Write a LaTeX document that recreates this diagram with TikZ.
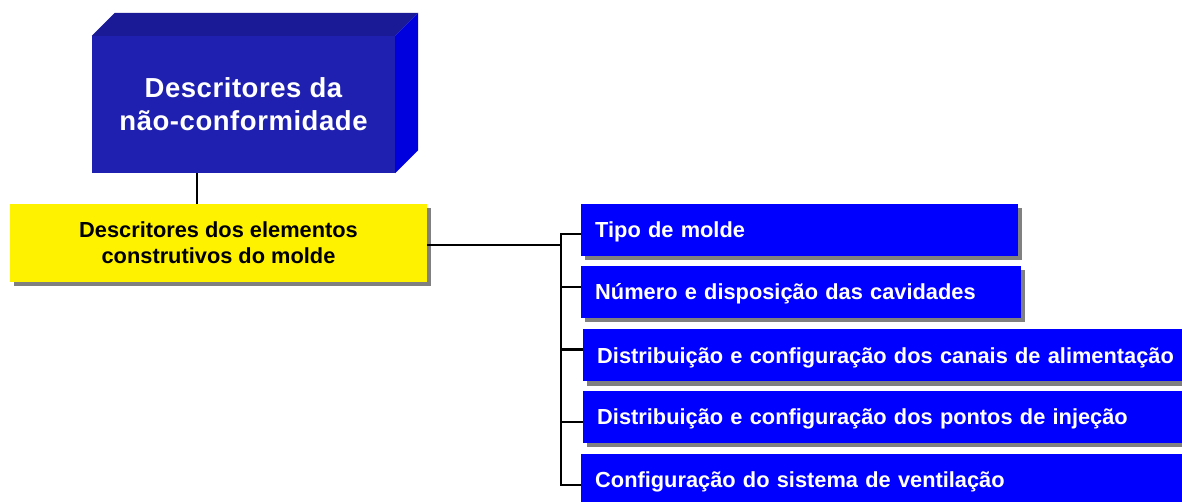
\documentclass[tikz,border=0pt]{standalone}
\usepackage{fontspec}
\setmainfont{Liberation Sans}
\begin{document}
\begin{tikzpicture}[x=1pt,y=1pt,
  blue3d/.style={fill=topfront, draw=none, minimum width=303pt, minimum height=137pt, inner sep=0pt,
    text=white, align=center, font=\fontsize{27.5}{33}\selectfont\bfseries\addfontfeature{LetterSpace=2}},
  yelbox/.style={fill=yellow, draw=none, minimum width=417pt, minimum height=78pt, inner sep=0pt,
    align=center, font=\fontsize{21.8}{26}\selectfont\bfseries},
  itembox/.style={fill=blue, draw=none, minimum height=52pt, inner sep=0pt, text=white,
    anchor=west, align=left, text depth=0pt, font=\fontsize{21.8}{26}\selectfont\bfseries},
  link/.style={draw=black, line width=2.8pt}
]
\definecolor{topfront}{RGB}{32,32,176}
\definecolor{toptop}{RGB}{26,26,150}
\definecolor{topside}{RGB}{0,0,222}
\definecolor{shadowgray}{RGB}{128,128,128}
\clip (0,0) rectangle (1182,502);
\fill[white] (0,0) rectangle (1182,502);

% top 3D box
\node[blue3d] (top) at (243.5,397.5) {Descritores da\\não-conformidade};
\fill[toptop] (top.north west) -- ++(23,23) -- ([shift={(23,23)}]top.north east) -- (top.north east) -- cycle;
\fill[topside] (top.north east) -- ++(23,23) -- ([shift={(23,23)}]top.south east) -- (top.south east) -- cycle;

% yellow box
\fill[shadowgray] (14,216) rectangle (431,294);
\node[yelbox] (yel) at (218.5,259) {Descritores dos elementos\\construtivos do molde};

% item boxes with shadows
\fill[shadowgray] (585,242) rectangle (1022,294);
\node[itembox, minimum width=437pt, text width=409pt] (b1) at (581,272) {Tipo de molde};
\fill[shadowgray] (585,180) rectangle (1025,232);
\node[itembox, minimum width=440pt, text width=412pt] (b2) at (581,210) {Número e disposição das cavidades};
\fill[shadowgray] (587,116) rectangle (1200,169);
\node[itembox, minimum width=610pt, text width=582pt] (b3) at (583,146.5) {Distribuição e configuração dos canais de alimentação};
\fill[shadowgray] (587,55) rectangle (1200,107);
\node[itembox, minimum width=610pt, text width=582pt] (b4) at (583,85) {Distribuição e configuração dos pontos de injeção};
\node[itembox, minimum width=610pt, text width=582pt] (b5) at (581,22) {Configuração do sistema de ventilação};

% connectors
\coordinate (bus) at (561,0);
\draw[link] ([xshift=-46.5]top.south) -- ([xshift=-46.5]top.south |- yel.north);
\draw[link] ([yshift=-2]yel.east) -- ([yshift=-2]yel.east -| bus);
\draw[link, line cap=rect] ([yshift=-4]b1.west -| bus) -- ([yshift=-5]b5.west -| bus);
\draw[link] ([yshift=-4]b1.west) -- ([yshift=-4]b1.west -| bus);
\draw[link] ([yshift=5]b2.west) -- ([yshift=5]b2.west -| bus);
\draw[link] ([yshift=6]b3.west) -- ([yshift=6]b3.west -| bus);
\draw[link] ([yshift=-5]b4.west) -- ([yshift=-5]b4.west -| bus);
\draw[link] ([yshift=-5]b5.west) -- ([yshift=-5]b5.west -| bus);
\end{tikzpicture}
\end{document}
